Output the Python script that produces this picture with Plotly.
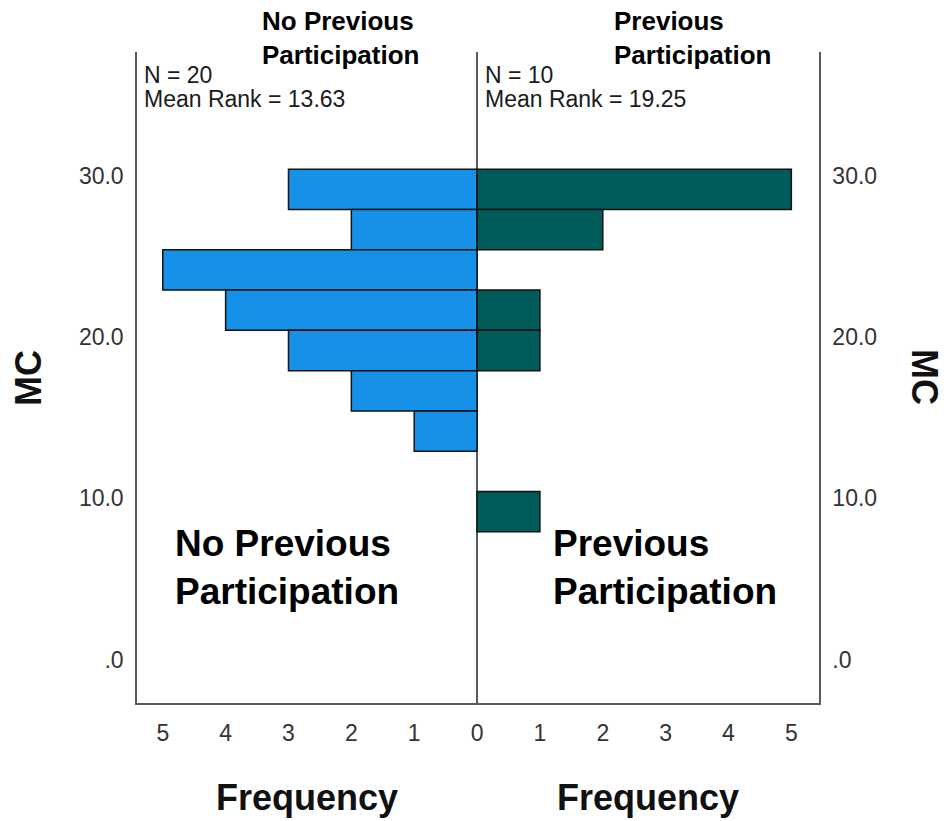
import plotly.graph_objects as go

# MC histogram bins (centre of each 2.5-wide bin), top to bottom
bin_centers = [29.17, 26.67, 24.17, 21.67, 19.17, 16.67, 14.17, 11.67, 9.17]
bin_width = 2.5

# Frequencies per bin for each group
no_prev_counts = [3, 2, 5, 4, 3, 2, 1, 0, 0]
prev_counts = [5, 2, 0, 1, 1, 0, 0, 0, 1]

y_tick_vals = [0, 10, 20, 30]
y_tick_text = [".0", "10.0", "20.0", "30.0"]
x_tick_vals = [-5, -4, -3, -2, -1, 0, 1, 2, 3, 4, 5]
x_tick_text = ["5", "4", "3", "2", "1", "0", "1", "2", "3", "4", "5"]

group_left = "No Previous<br>Participation"
group_right = "Previous<br>Participation"
stats_left = ["N = 20", "Mean Rank = 13.63"]
stats_right = ["N = 10", "Mean Rank = 19.25"]

BLUE = "#1591E8"
TEAL = "#005C5A"
AXIS = "#5a5a5a"
FONT = "Liberation Sans, Arial, sans-serif"

W, H = 947, 821
L, R, T, B = 137, 128, 52, 118
PW, PH = W - L - R, H - T - B


def px_x(x):
    return (x - L) / PW


def px_y(y):
    return (H - B - y) / PH


def bold(txt):
    return "<b>" + txt.replace("<br>", "</b><br><b>") + "</b>"


# drop empty bins so no zero-width outlines are drawn
left_y = [c for c, n in zip(bin_centers, no_prev_counts) if n > 0]
left_x = [-n for n in no_prev_counts if n > 0]
right_y = [c for c, n in zip(bin_centers, prev_counts) if n > 0]
right_x = [n for n in prev_counts if n > 0]

fig = go.Figure()
fig.add_trace(go.Bar(
    y=left_y, x=left_x, orientation="h", width=bin_width,
    marker=dict(color=BLUE, line=dict(color="#111111", width=1.5)),
    showlegend=False, hoverinfo="skip",
))
fig.add_trace(go.Bar(
    y=right_y, x=right_x, orientation="h", width=bin_width, yaxis="y2",
    marker=dict(color=TEAL, line=dict(color="#111111", width=1.5)),
    showlegend=False, hoverinfo="skip",
))

y_range = [-2.70, 37.69]
tick_font = dict(family=FONT, size=23, color="#333333")

fig.update_layout(
    width=W, height=H,
    margin=dict(l=L, r=R, t=T, b=B, pad=0),
    paper_bgcolor="white", plot_bgcolor="white",
    barmode="overlay",
    xaxis=dict(
        range=[-5.41, 5.44], tickvals=x_tick_vals, ticktext=x_tick_text,
        showgrid=False, showline=True, linecolor=AXIS, linewidth=1.5,
        zeroline=True, zerolinecolor=AXIS, zerolinewidth=1.5,
        ticks="", tickfont=tick_font, ticklabelstandoff=9,
        fixedrange=True,
    ),
    yaxis=dict(
        range=y_range, tickvals=y_tick_vals, ticktext=y_tick_text,
        showgrid=False, showline=True, linecolor=AXIS, linewidth=1.5,
        zeroline=False, ticks="", tickfont=tick_font, ticklabelstandoff=7,
        fixedrange=True,
    ),
    yaxis2=dict(
        range=y_range, tickvals=y_tick_vals, ticktext=y_tick_text,
        overlaying="y", side="right",
        showgrid=False, showline=True, linecolor=AXIS, linewidth=1.5,
        zeroline=False, ticks="", tickfont=tick_font, ticklabelstandoff=7,
        fixedrange=True,
    ),
)

ann = []
# group headers above each panel
for x, txt in [(260, group_left), (612, group_right)]:
    ann.append(dict(x=px_x(x), y=px_y(38), text=bold(txt), xanchor="left", yanchor="middle",
                    align="left", font=dict(family=FONT, size=26, color="black")))
# sample sizes and mean ranks
for x, lines in [(142, stats_left), (483, stats_right)]:
    for yy, txt in zip([75, 99], lines):
        ann.append(dict(x=px_x(x), y=px_y(yy), text=txt, xanchor="left", yanchor="middle",
                        align="left", font=dict(family=FONT, size=23, color="#1a1a1a")))
# large group labels inside the panels
for x, txt in [(173, group_left), (551, group_right)]:
    ann.append(dict(x=px_x(x), y=px_y(567), text=bold(txt),
                    xanchor="left", yanchor="middle", align="left",
                    font=dict(family=FONT, size=37, color="black")))
# Frequency titles under each half
for x in [307, 648]:
    ann.append(dict(x=px_x(x), y=px_y(797), text="<b>Frequency</b>", xanchor="center",
                    yanchor="middle", font=dict(family=FONT, size=36, color="#111111")))
# MC axis titles on both sides
ann.append(dict(x=px_x(28), y=px_y(378), text="<b>MC</b>", textangle=-90, xanchor="center",
                yanchor="middle", font=dict(family=FONT, size=36, color="#111111")))
ann.append(dict(x=px_x(925), y=px_y(377), text="<b>MC</b>", textangle=90, xanchor="center",
                yanchor="middle", font=dict(family=FONT, size=36, color="#111111")))

for a in ann:
    a.update(xref="paper", yref="paper", showarrow=False)

fig.update_layout(annotations=ann)
fig.write_html("out.html")
